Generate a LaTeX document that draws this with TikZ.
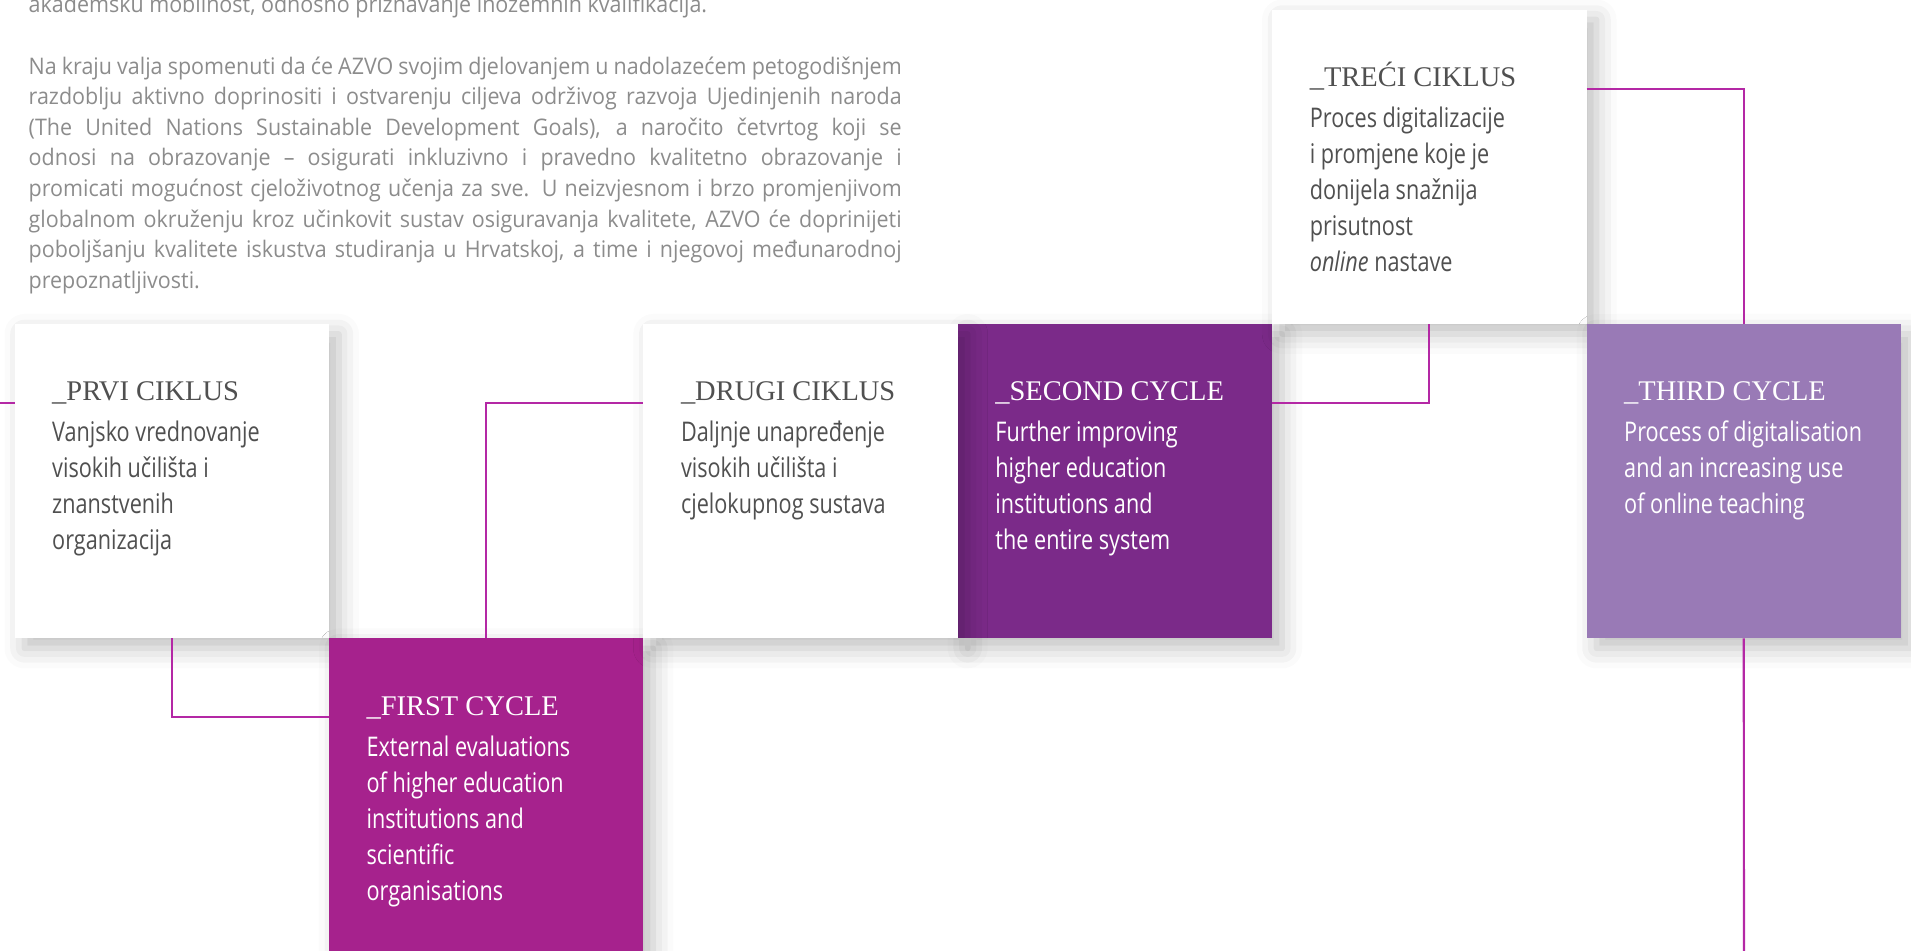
\documentclass[tikz,border=0pt]{standalone}
\usepackage{fontspec}
\usepackage{tikz}
\usetikzlibrary{positioning,shadows.blur}
\setmainfont{Open Sans}
\newfontfamily\headfont{Liberation Serif}
\newfontfamily\bodyfont[FakeStretch=0.8]{Open Sans}
\newfontfamily\parafont[FakeStretch=0.94]{Open Sans}
\definecolor{prvacol}{RGB}{166,34,141}
\definecolor{drugacol}{RGB}{123,42,137}
\definecolor{trecacol}{RGB}{153,122,182}
\definecolor{linkcol}{RGB}{180,40,165}
\definecolor{tamno}{RGB}{80,80,80}
\definecolor{svijetlo}{RGB}{140,140,140}
\newcommand\boxlines[1]{\parbox[t]{3cm}{#1}}
\newcommand\redak[1]{\makebox[\linewidth][s]{#1}\par}

\tikzset{
  ciklus/.style={rectangle, minimum width=3.144cm, minimum height=3.144cm,
    inner sep=0pt, outer sep=0pt,
    blur shadow={shadow xshift=0.1cm, shadow yshift=-0.1cm,
      shadow blur radius=0.2cm, shadow opacity=25}},
  head/.style={anchor=base west, inner sep=0pt, font=\headfont\fontsize{8.1}{10}\selectfont},
  body/.style={anchor=base west, inner sep=0pt, font=\bodyfont\fontsize{7.7}{10.24}\selectfont},
  veza/.style={draw=linkcol, line width=0.6pt}
}

\begin{document}
\begin{tikzpicture}
\useasboundingbox (0,0) rectangle (19.11,9.51);
% uvodni tekst
\node [anchor=base west, inner sep=0pt, text=svijetlo, font=\parafont\fontsize{6.5}{8.7}\selectfont] (uvod) at (0.28,9.38) {\parbox[t]{8.73cm}{%
akademsku mobilnost, odnosno priznavanje inozemnih kvalifikacija.\par\vspace{8.7pt}
\redak{Na kraju valja spomenuti da će AZVO svojim djelovanjem u nadolazećem petogodišnjem}
\redak{razdoblju aktivno doprinositi i ostvarenju ciljeva održivog razvoja Ujedinjenih naroda}
\redak{(The United Nations Sustainable Development Goals), a naročito četvrtog koji se}
\redak{odnosi na obrazovanje – osigurati inkluzivno i pravedno kvalitetno obrazovanje i}
\redak{promicati mogućnost cjeloživotnog učenja za sve. U neizvjesnom i brzo promjenjivom}
\redak{globalnom okruženju kroz učinkovit sustav osiguravanja kvalitete, AZVO će doprinijeti}
\redak{poboljšanju kvalitete iskustva studiranja u Hrvatskoj, a time i njegovoj međunarodnoj}
prepoznatljivosti.}};

% kutije
\node [ciklus, fill=white, anchor=north west] (prvi) at (0.145,6.27) {};
\node [ciklus, fill=prvacol, below right=0pt and 0pt of prvi] (first) {};
\node [ciklus, fill=drugacol, above right=0pt and 0pt of first, xshift=3.144cm] (second) {};
\node [ciklus, fill=white, above right=0pt and 0pt of first] (drugi) {};
\node [ciklus, fill=white, above right=0pt and 0pt of second] (treci) {};
\node [ciklus, fill=trecacol, below right=0pt and 0pt of treci] (third) {};

% tekstovi
\node [head, text=tamno] (prvi-h) at ([shift={(0.37,-0.77)}]prvi.north west) {\_PRVI CIKLUS};
\node [body, text=tamno] (prvi-t) at ([shift={(0.37,-1.18)}]prvi.north west) {\boxlines{Vanjsko vrednovanje\\visokih učilišta i\\znanstvenih\\organizacija}};
\node [head, text=white] (first-h) at ([shift={(0.37,-0.77)}]first.north west) {\_FIRST CYCLE};
\node [body, text=white] (first-t) at ([shift={(0.37,-1.18)}]first.north west) {\boxlines{External evaluations\\of higher education\\institutions and\\scientific\\organisations}};
\node [head, text=tamno] (drugi-h) at ([shift={(0.37,-0.77)}]drugi.north west) {\_DRUGI CIKLUS};
\node [body, text=tamno] (drugi-t) at ([shift={(0.37,-1.18)}]drugi.north west) {\boxlines{Daljnje unapređenje\\visokih učilišta i\\cjelokupnog sustava}};
\node [head, text=white] (second-h) at ([shift={(0.37,-0.77)}]second.north west) {\_SECOND CYCLE};
\node [body, text=white] (second-t) at ([shift={(0.37,-1.18)}]second.north west) {\boxlines{Further improving\\higher education\\institutions and\\the entire system}};
\node [head, text=tamno] (treci-h) at ([shift={(0.37,-0.77)}]treci.north west) {\_TREĆI CIKLUS};
\node [body, text=tamno] (treci-t) at ([shift={(0.37,-1.18)}]treci.north west) {\boxlines{Proces digitalizacije\\i promjene koje je\\donijela snažnija\\prisutnost\\\textit{online} nastave}};
\node [head, text=white] (third-h) at ([shift={(0.37,-0.77)}]third.north west) {\_THIRD CYCLE};
\node [body, text=white] (third-t) at ([shift={(0.37,-1.18)}]third.north west) {\boxlines{Process of digitalisation\\and an increasing use\\of online teaching}};

% veze
\coordinate (ulaz) at (0,5.48);
\coordinate (izlaz) at (17.44,0);
\draw [veza] (ulaz) -- (ulaz -| prvi.west);
\draw [veza] (prvi.south) |- ([yshift=-0.79cm]first.north west);
\draw [veza] (first.north) |- ([yshift=-0.79cm]drugi.north west);
\draw [veza] ([yshift=-0.79cm]second.north east) -| (treci.south);
\draw [veza] ([yshift=-0.79cm]treci.north east) -| (third.north);
\draw [veza] (third.south) -- (izlaz);
\end{tikzpicture}
\end{document}
